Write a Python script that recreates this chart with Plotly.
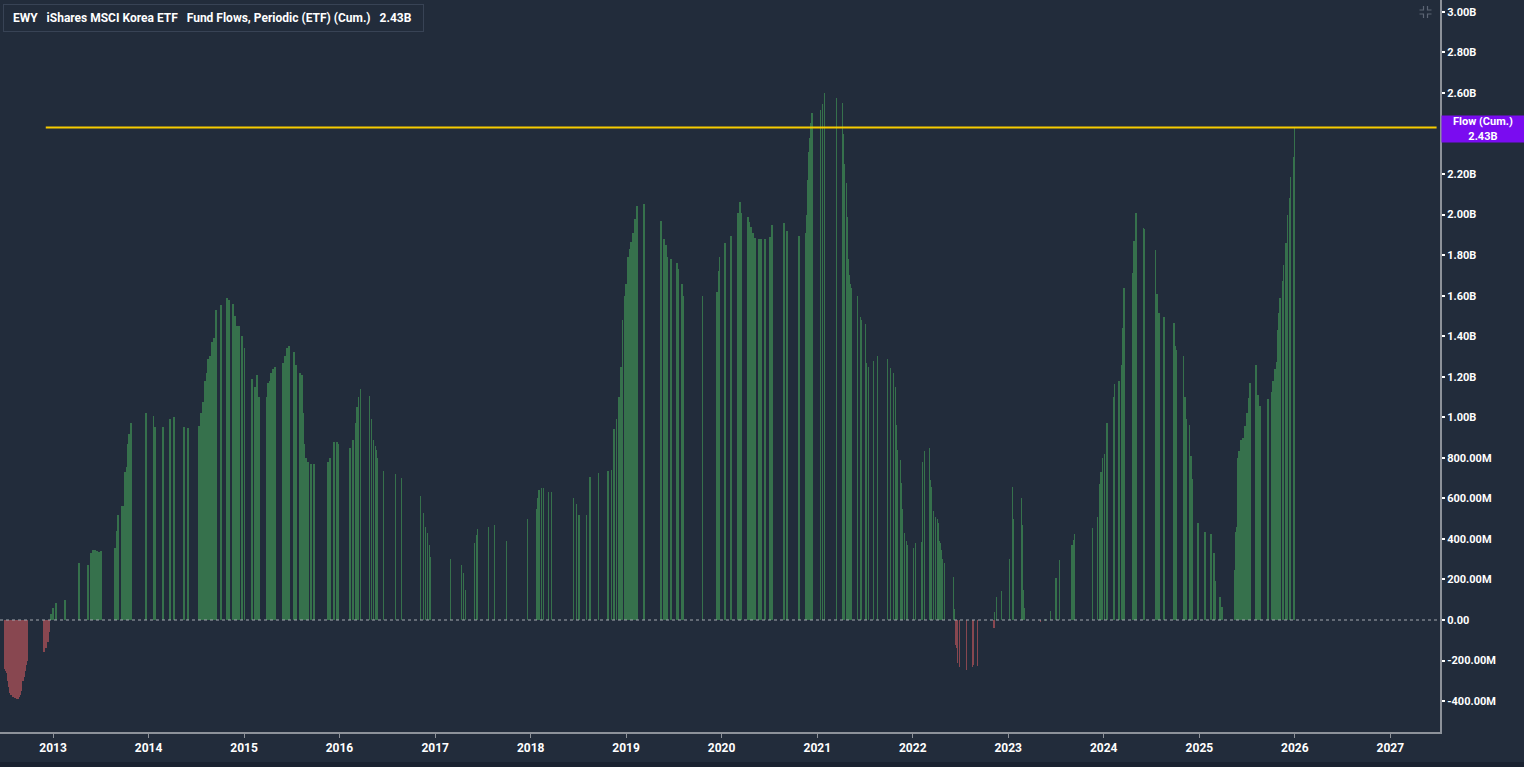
import plotly.graph_objects as go

# ---------------- data (cumulative fund flows, billions USD) ----------------
dates = [
    "2012-06-30", "2012-07-04", "2012-07-08", "2012-07-12", "2012-07-16", "2012-07-20", "2012-07-24",
    "2012-07-27", "2012-07-31", "2012-08-04", "2012-08-08", "2012-08-11", "2012-08-15", "2012-08-19",
    "2012-08-23", "2012-08-27", "2012-08-31", "2012-09-03", "2012-09-07", "2012-09-11", "2012-09-15",
    "2012-09-19", "2012-09-23", "2012-09-26",
    "2012-11-27", "2012-12-04", "2012-12-12", "2012-12-16",
    "2012-12-24", "2013-01-01", "2013-01-12", "2013-02-15", "2013-04-10", "2013-05-14", "2013-05-26",
    "2013-06-02", "2013-06-10", "2013-06-18", "2013-06-25", "2013-07-03", "2013-08-25", "2013-09-02",
    "2013-09-06", "2013-09-21", "2013-09-29", "2013-10-03", "2013-10-10", "2013-10-14", "2013-10-18",
    "2013-10-26", "2013-12-22",
    "2014-01-19", "2014-01-26", "2014-02-25", "2014-03-24", "2014-04-08", "2014-05-16", "2014-06-01",
    "2014-07-13", "2014-07-20", "2014-07-28", "2014-08-05", "2014-08-13", "2014-08-16", "2014-08-24",
    "2014-09-01", "2014-09-08", "2014-09-16", "2014-10-05", "2014-10-28", "2014-11-05", "2014-11-20",
    "2014-11-28", "2014-12-05", "2014-12-13", "2014-12-25",
    "2015-01-02", "2015-02-01", "2015-02-12", "2015-02-20", "2015-02-28", "2015-03-30", "2015-04-03",
    "2015-04-11", "2015-04-14", "2015-04-22", "2015-04-30", "2015-05-30", "2015-06-07", "2015-06-15",
    "2015-06-22", "2015-07-12", "2015-07-19", "2015-08-03", "2015-08-11", "2015-08-15", "2015-08-19",
    "2015-08-26", "2015-09-03", "2015-09-15", "2015-09-26", "2015-11-19", "2015-11-26", "2015-12-12",
    "2015-12-23", "2015-12-27",
    "2016-02-11", "2016-02-22", "2016-03-02", "2016-03-09", "2016-03-13", "2016-03-21", "2016-04-25",
    "2016-05-02", "2016-05-10", "2016-05-18", "2016-05-21", "2016-05-25", "2016-06-17", "2016-08-02",
    "2016-08-25", "2016-11-06", "2016-11-17", "2016-11-25", "2016-12-03", "2016-12-10", "2016-12-14",
    "2017-03-01", "2017-04-12", "2017-04-19", "2017-04-27", "2017-05-31", "2017-06-08", "2017-06-12",
    "2017-07-24", "2017-08-16", "2017-10-01", "2017-12-20",
    "2018-01-24", "2018-01-28", "2018-02-01", "2018-02-12", "2018-02-20", "2018-03-11", "2018-03-22",
    "2018-06-14", "2018-06-26", "2018-07-04", "2018-08-03", "2018-08-15", "2018-09-18", "2018-10-23",
    "2018-11-07", "2018-11-15", "2018-11-26", "2018-12-04", "2018-12-12", "2018-12-19", "2018-12-27",
    "2018-12-31",
    "2019-01-08", "2019-01-16", "2019-01-20", "2019-01-27", "2019-02-04", "2019-02-11", "2019-03-10",
    "2019-05-14", "2019-05-25", "2019-06-02", "2019-06-09", "2019-06-21", "2019-07-14", "2019-07-21",
    "2019-08-02", "2019-08-06", "2019-10-21", "2019-12-14", "2019-12-22", "2019-12-25",
    "2020-01-14", "2020-02-06", "2020-03-04", "2020-03-12", "2020-03-16", "2020-04-11", "2020-04-15",
    "2020-04-23", "2020-05-01", "2020-05-08", "2020-05-24", "2020-05-31", "2020-06-16", "2020-07-05",
    "2020-07-12", "2020-08-27", "2020-09-08", "2020-10-24", "2020-11-19", "2020-11-23", "2020-11-27",
    "2020-12-01", "2020-12-05", "2020-12-08", "2020-12-12",
    "2021-01-13", "2021-01-21", "2021-01-28", "2021-03-15", "2021-04-07", "2021-04-11", "2021-04-15",
    "2021-04-22", "2021-04-26", "2021-04-30", "2021-05-04", "2021-05-08", "2021-05-12", "2021-06-04",
    "2021-06-15", "2021-06-19", "2021-07-04", "2021-07-08", "2021-07-16", "2021-08-04", "2021-08-19",
    "2021-09-26", "2021-10-08", "2021-10-19", "2021-10-27", "2021-10-31", "2021-11-04", "2021-11-15",
    "2021-11-19", "2021-11-23", "2021-12-01", "2021-12-08", "2021-12-12",
    "2022-01-04", "2022-01-12", "2022-02-04", "2022-02-07", "2022-02-15", "2022-03-06", "2022-03-10",
    "2022-03-14", "2022-03-21", "2022-03-29", "2022-04-06", "2022-04-10", "2022-04-13", "2022-04-17",
    "2022-04-21", "2022-04-25", "2022-05-03", "2022-06-06", "2022-06-10", "2022-06-14", "2022-06-18",
    "2022-06-22", "2022-06-29", "2022-07-26", "2022-08-18", "2022-08-22", "2022-09-06", "2022-11-07",
    "2022-11-10", "2022-11-18", "2022-12-07",
    "2023-01-06", "2023-01-18", "2023-01-22", "2023-02-21", "2023-02-25", "2023-03-01", "2023-03-05",
    "2023-05-05", "2023-05-24", "2023-06-12", "2023-07-02", "2023-07-17", "2023-09-01", "2023-09-08",
    "2023-09-12", "2023-11-20", "2023-12-09", "2023-12-17", "2023-12-21", "2023-12-28",
    "2024-01-05", "2024-01-13", "2024-02-08", "2024-02-12", "2024-02-28", "2024-03-10", "2024-03-14",
    "2024-03-18", "2024-04-21", "2024-04-25", "2024-05-03", "2024-06-02", "2024-06-06", "2024-07-18",
    "2024-07-22", "2024-07-30", "2024-08-18", "2024-09-25", "2024-09-29", "2024-10-03", "2024-11-02",
    "2024-11-06", "2024-11-10", "2024-11-25", "2024-11-29", "2024-12-03", "2024-12-26",
    "2025-01-23", "2025-02-15", "2025-02-26", "2025-03-02", "2025-03-21", "2025-03-29", "2025-05-18",
    "2025-05-21", "2025-05-25", "2025-05-29", "2025-06-02", "2025-06-10", "2025-06-17", "2025-06-25",
    "2025-07-03", "2025-07-10", "2025-07-14", "2025-08-06", "2025-08-14", "2025-08-21", "2025-09-21",
    "2025-10-03", "2025-10-10", "2025-10-18", "2025-10-22", "2025-10-26", "2025-10-29", "2025-11-02",
    "2025-11-06", "2025-11-14", "2025-11-18", "2025-11-29", "2025-12-03", "2025-12-11", "2025-12-15",
    "2025-12-26", "2025-12-31",
]
flows_b = [
    -0.24, -0.25, -0.26, -0.30, -0.33, -0.36, -0.37,
    -0.37, -0.38, -0.38, -0.385, -0.385, -0.39, -0.39,
    -0.38, -0.37, -0.35, -0.33, -0.30, -0.28, -0.25,
    -0.22, -0.20, -0.18,
    -0.16, -0.14, -0.11, -0.06,
    0.03, 0.06, 0.085, 0.10, 0.28, 0.27, 0.33,
    0.345, 0.345, 0.34, 0.335, 0.34, 0.355, 0.44,
    0.52, 0.56, 0.56, 0.73, 0.755, 0.87, 0.92,
    0.97, 1.02,
    1.005, 0.95, 0.95, 0.99, 1.00, 0.95, 0.945,
    0.957, 1.02, 1.075, 1.18, 1.22, 1.29, 1.30,
    1.37, 1.39, 1.53, 1.555, 1.59, 1.58, 1.56,
    1.50, 1.45, 1.45, 1.40,
    1.34, 1.19, 1.15, 1.21, 1.10, 1.10, 1.17,
    1.18, 1.22, 1.24, 1.25, 1.27, 1.30, 1.34,
    1.35, 1.32, 1.26, 1.22, 1.21, 1.02, 0.87,
    0.80, 0.78, 0.77, 0.77, 0.78, 0.80, 0.88,
    0.88, 0.87,
    0.85, 0.89, 0.97, 1.05, 1.10, 1.14, 1.105,
    0.99, 0.89, 0.86, 0.84, 0.80, 0.735, 0.72,
    0.70, 0.61, 0.53, 0.46, 0.43, 0.37, 0.31,
    0.30, 0.27, 0.23, 0.15, 0.38, 0.42, 0.45,
    0.46, 0.47, 0.39, 0.50,
    0.55, 0.60, 0.64, 0.65, 0.65, 0.63, 0.63,
    0.60, 0.57, 0.52, 0.52, 0.705, 0.725, 0.735,
    0.74, 0.94, 0.99, 1.10, 1.25, 1.48, 1.60,
    1.66,
    1.79, 1.83, 1.865, 1.91, 1.98, 2.04, 2.05,
    1.97, 1.88, 1.85, 1.79, 1.78, 1.76, 1.73,
    1.66, 1.60, 1.60, 1.62, 1.72, 1.79,
    1.86, 1.895, 2.01, 2.06, 2.01, 1.99, 1.965,
    1.94, 1.91, 1.885, 1.88, 1.88, 1.88, 1.89,
    1.95, 1.96, 1.92, 1.895, 1.91, 2.00, 2.17,
    2.31, 2.38, 2.45, 2.50,
    2.515, 2.545, 2.60, 2.575, 2.55, 2.40, 2.25,
    2.155, 1.99, 1.78, 1.70, 1.66, 1.64, 1.60,
    1.495, 1.48, 1.46, 1.27, 1.25, 1.28, 1.30,
    1.29, 1.245, 1.22, 1.15, 0.96, 0.84, 0.79,
    0.675, 0.55, 0.43, 0.39, 0.37,
    0.355, 0.38, 0.385, 0.78, 0.835, 0.85, 0.69,
    0.655, 0.54, 0.51, 0.50, 0.48, 0.39, 0.38,
    0.345, 0.30, 0.28, 0.21, 0.055, -0.125, -0.14,
    -0.21, -0.23, -0.245, -0.23, -0.22, -0.225, -0.04,
    0.04, 0.115, 0.145,
    0.30, 0.655, 0.50, 0.60, 0.47, 0.15, 0.06,
    -0.01, 0.005, 0.045, 0.205, 0.295, 0.37, 0.395,
    0.425, 0.455, 0.51, 0.67, 0.73, 0.80,
    0.82, 0.97, 1.10, 1.165, 1.18, 1.26, 1.44,
    1.64, 1.71, 1.87, 2.01, 1.935, 1.93, 1.825,
    1.61, 1.515, 1.495, 1.465, 1.35, 1.33, 1.30,
    1.10, 0.99, 0.96, 0.81, 0.695, 0.48,
    0.435, 0.425, 0.33, 0.19, 0.115, 0.062, 0.245,
    0.435, 0.46, 0.80, 0.835, 0.89, 0.90, 0.955,
    1.02, 1.095, 1.17, 1.26, 1.11, 1.055, 1.09,
    1.125, 1.18, 1.24, 1.275, 1.365, 1.43, 1.515,
    1.59, 1.67, 1.75, 1.86, 2.00, 2.08, 2.185,
    2.285, 2.43,
]

tick_vals = [-0.4, -0.2, 0.0, 0.2, 0.4, 0.6, 0.8, 1.0, 1.2, 1.4, 1.6, 1.8, 2.0, 2.2, 2.4, 2.6, 2.8, 3.0]
tick_text = ["-400.00M", "-200.00M", "0.00", "200.00M", "400.00M", "600.00M", "800.00M", "1.00B",
             "1.20B", "1.40B", "1.60B", "1.80B", "2.00B", "2.20B", "2.40B", "2.60B", "2.80B", "3.00B"]
year_ticks = ["2013-01-01", "2014-01-01", "2015-01-01", "2016-01-01", "2017-01-01", "2018-01-01",
              "2019-01-01", "2020-01-01", "2021-01-01", "2022-01-01", "2023-01-01", "2024-01-01",
              "2025-01-01", "2026-01-01", "2027-01-01"]
year_labels = ["2013", "2014", "2015", "2016", "2017", "2018", "2019", "2020", "2021", "2022",
               "2023", "2024", "2025", "2026", "2027"]

last_value = flows_b[-1]
level_line_start = "2012-12-04"
level_line_end = "2027-06-27"
x_range = ["2012-06-12", "2027-07-10"]
y_range = [-0.5525, 3.0587]

# ---------------- styling ----------------
BG = "#222c3b"
GREEN = "#44a058"
RED = "#cc5a5e"
PURPLE = "#7a0cf0"
YELLOW = "#f7cc00"
AXIS = "#8d929a"

W, H = 1524, 767
ML, MR, MT, MB = 0, 84, 0, 35
PW, PH = W - ML - MR, H - MT - MB


def px(xp):
    return xp / PW


def py(yp):
    return 1 - yp / PH


colors = [GREEN if v >= 0 else RED for v in flows_b]
day_ms = 24 * 3600 * 1000

fig = go.Figure()
fig.add_trace(go.Bar(
    x=dates, y=flows_b, width=[2.0 * day_ms] * len(dates),
    marker=dict(color=colors, line=dict(width=0)), opacity=0.6,
    hoverinfo="x+y", showlegend=False,
))

shapes = [
    # zero line
    dict(type="line", xref="paper", yref="y", x0=0, x1=1, y0=0, y1=0,
         line=dict(color="#a3a8b0", width=1, dash="dot"), layer="above"),
    # last value level line
    dict(type="line", xref="x", yref="y", x0=level_line_start, x1=level_line_end,
         y0=last_value, y1=last_value, line=dict(color=YELLOW, width=2), layer="above"),
    # title box purple marker
    dict(type="rect", xref="paper", yref="paper", x0=px(3), x1=px(6), y0=py(29), y1=py(5),
         fillcolor=PURPLE, line=dict(width=0), layer="above"),
    # bottom darker band
    dict(type="rect", xref="paper", yref="paper", x0=-0.01, x1=W / PW + 0.01, y0=py(767), y1=py(762),
         fillcolor="#1a2230", line=dict(width=0), layer="above"),
]
# small "collapse" icon near top right
icon_col = "#5d6675"
cx, cy = 1425.5, 12
for sx in (-1, 1):
    for sy in (-1, 1):
        ax_ = cx + sx * 2
        ay_ = cy + sy * 2
        shapes.append(dict(type="path", xref="paper", yref="paper",
                           path=f"M {px(ax_ + sx * 4)} {py(ay_)} L {px(ax_)} {py(ay_)} L {px(ax_)} {py(ay_ + sy * 4)}",
                           line=dict(color=icon_col, width=1.2), layer="above"))

annotations = [
    dict(xref="paper", yref="paper", x=px(3), y=py(4), xanchor="left", yanchor="top",
         text="\u00a0EWY\u00a0\u00a0\u00a0iShares MSCI Korea ETF\u00a0\u00a0\u00a0Fund Flows, Periodic (ETF) (Cum.)\u00a0\u00a0\u00a02.43B\u00a0\u00a0",
         showarrow=False, font=dict(family="Roboto", size=12, color="#ffffff", weight="bold"),
         bgcolor=BG, bordercolor="#384355", borderwidth=1, borderpad=6, align="left"),
    dict(xref="paper", yref="y", x=1, y=last_value, xanchor="left", yanchor="middle",
         xshift=1, yshift=-2, text="Flow (Cum.)<br>2.43B", showarrow=False,
         font=dict(family="Roboto", size=11, color="#ffffff", weight="bold"),
         bgcolor=PURPLE, width=80, height=24, borderpad=1, align="center"),
]

fig.update_layout(
    width=W, height=H,
    margin=dict(l=ML, r=MR, t=MT, b=MB, pad=0),
    paper_bgcolor=BG, plot_bgcolor=BG,
    bargap=0, barmode="overlay",
    shapes=shapes, annotations=annotations,
    xaxis=dict(type="date", range=x_range, tickvals=year_ticks, ticktext=year_labels,
               showgrid=False, zeroline=False, showline=True, linecolor=AXIS, linewidth=2,
               ticks="outside", ticklen=4, tickcolor=AXIS, tickwidth=1,
               tickfont=dict(family="Roboto", size=12, color="#ffffff", weight="bold")),
    yaxis=dict(side="right", range=y_range, tickvals=tick_vals, ticktext=tick_text,
               showgrid=False, zeroline=False, showline=True, linecolor=AXIS, linewidth=2,
               ticks="outside", ticklen=3, tickcolor="#ffffff", tickwidth=2,
               tickfont=dict(family="Roboto", size=11, color="#ffffff", weight="bold")),
)

fig.write_html("out.html")
